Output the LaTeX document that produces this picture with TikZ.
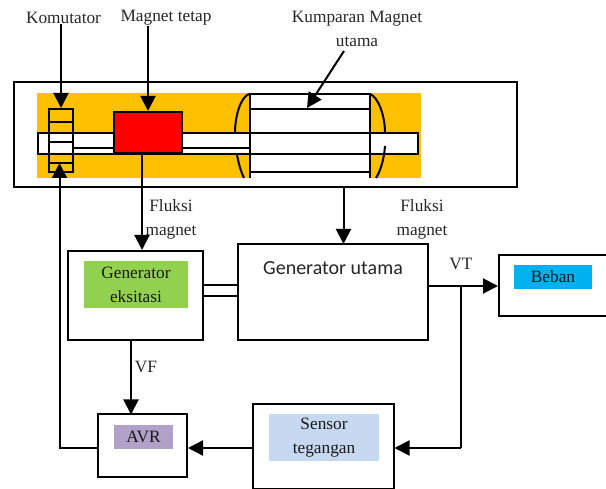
\documentclass[tikz,border=0pt]{standalone}
\usepackage{fontspec}
\setmainfont{Liberation Serif}
\newfontfamily\sansgen{Carlito}
\usetikzlibrary{arrows.meta,calc}
\definecolor{orangec}{RGB}{255,192,0}
\definecolor{greenc}{RGB}{146,208,80}
\definecolor{purplec}{RGB}{177,160,199}
\definecolor{bluec}{RGB}{198,217,241}
\definecolor{cyanc}{RGB}{0,176,240}
\begin{document}
\begin{tikzpicture}[x=1pt,y=-1pt,line width=2pt,
  every node/.style={font=\fontsize{17.3}{24}\selectfont, inner sep=0pt},
  box/.style={draw, fill=white, line width=2pt},
  lbl/.style={align=center, text=black!85},
  tag/.style={align=center, text=black!90},
  arr/.style={-{Triangle[length=15pt,width=15pt]}, line width=2pt}]
  \useasboundingbox (0,0) rectangle (606,489);
  % machine
  \node[box, minimum width=503.5pt, minimum height=105pt] (mesin) at (265.25,134.5) {};
  \node[fill=orangec, minimum width=384pt, minimum height=85pt] (inti) at (229,135.5) {};
  \draw[fill=white, draw=none] (250,94) rectangle (370,178);
  \draw (236,149) .. controls (238,162) and (241,172) .. (244,178);
  \draw (249,94) .. controls (241,97) and (235,115) .. (235,133);
  \draw (370,94) .. controls (378,97) and (385,115) .. (385,133);
  \node[box, minimum width=380pt, minimum height=21pt] (poros) at (228,143.5) {};
  \draw (73,148) -- (250,148);
  \draw (385,146) .. controls (384,160) and (380,172) .. (376,178);
  \draw (250,178) -- (250,94) -- (370,94) -- (370,178);
  \foreach \y in {109,172} \draw[line width=1.5pt] (250,\y) -- (370,\y);
  \node[box, fill=none, minimum width=24pt, minimum height=63pt] (komutator) at (61,140.5) {};
  \foreach \y in {122,142,163} \draw (49,\y) -- (73,\y);
  \node[box, fill=red, minimum width=68pt, minimum height=41pt] (magnet) at (148,132.5) {};
  \coordinate (kumparan) at (307,108);
  % labels on top
  \node[lbl] (lblkom) at (63.5,17.5) {Komutator};
  \node[lbl] (lblmag) at (166,17.5) {Magnet tetap};
  \node[lbl] (lblkum) at (357,28.5) {Kumparan Magnet\\utama};
  \draw[arr] (lblkom.south -| komutator.north) -- (komutator.north);
  \draw[arr] (magnet.north |- lblmag.south) -- (magnet.north);
  \draw[arr] (344,51) -- (kumparan);
  % blocks
  \node[box, minimum width=135pt, minimum height=89pt] (genek) at (135.5,295.5) {};
  \node[fill=greenc, minimum width=104pt, minimum height=47pt, tag] (tekgenek) at (136,284.5) {Generator\\eksitasi};
  \node[box, minimum width=190pt, minimum height=96pt] (genut) at (333,292) {};
  \node[font=\sansgen\fontsize{20}{23}\selectfont, text=black!85] (tekgenut) at (333,268) {Generator utama};
  \node[box, minimum width=89.5pt, minimum height=62.5pt] (avr) at (142.25,445.75) {};
  \node[fill=purplec, minimum width=59pt, minimum height=24pt, tag] (tekavr) at (143.5,437) {AVR};
  \node[box, minimum width=140.5pt, minimum height=84.5pt] (sensor) at (323.25,446.25) {};
  \node[fill=bluec, minimum width=110pt, minimum height=47pt, tag] (teksensor) at (324,438) {Sensor\\tegangan};
  \node[box, minimum width=112pt, minimum height=61pt] (beban) at (555,285.5) {};
  \node[fill=cyanc, minimum width=78pt, minimum height=24pt, tag] (tekbeban) at (553,277) {Beban};
  % flux labels
  \node[lbl] (fluks1) at (171,219.5) {Fluksi\\magnet};
  \node[lbl] (fluks2) at (422,219.5) {Fluksi\\magnet};
  \node[lbl] (lblvt) at (461,264) {VT};
  \node[lbl] (lblvf) at (146,367) {VF};
  % connectors
  \coordinate (cab) at (460.5,286);
  \coordinate (avrkiri) at (59.5,448);
  \coordinate (kommasuk) at (59.5,163);
  \draw[arr] (142,153) -- (genek.north -| 142,0);
  \draw[arr] (343.5,187) -- (343.5,244);
  \draw (genek.east |- 0,285.5) -- (genut.west |- 0,285.5);
  \draw (genek.east |- 0,296) -- (genut.west |- 0,296);
  \draw[arr] (131,340) -- (131,414.5);
  \draw[arr] (genut.east |- cab) -- (beban.west |- cab);
  \draw (cab) -- (cab |- 0,448);
  \draw[arr] (cab |- 0,448) -- (sensor.east |- 0,448);
  \draw[arr] (sensor.west |- 0,448) -- (avr.east |- 0,448);
  \draw[arr] (avr.west |- 0,448) -- (avrkiri) -- (kommasuk);
\end{tikzpicture}
\end{document}
